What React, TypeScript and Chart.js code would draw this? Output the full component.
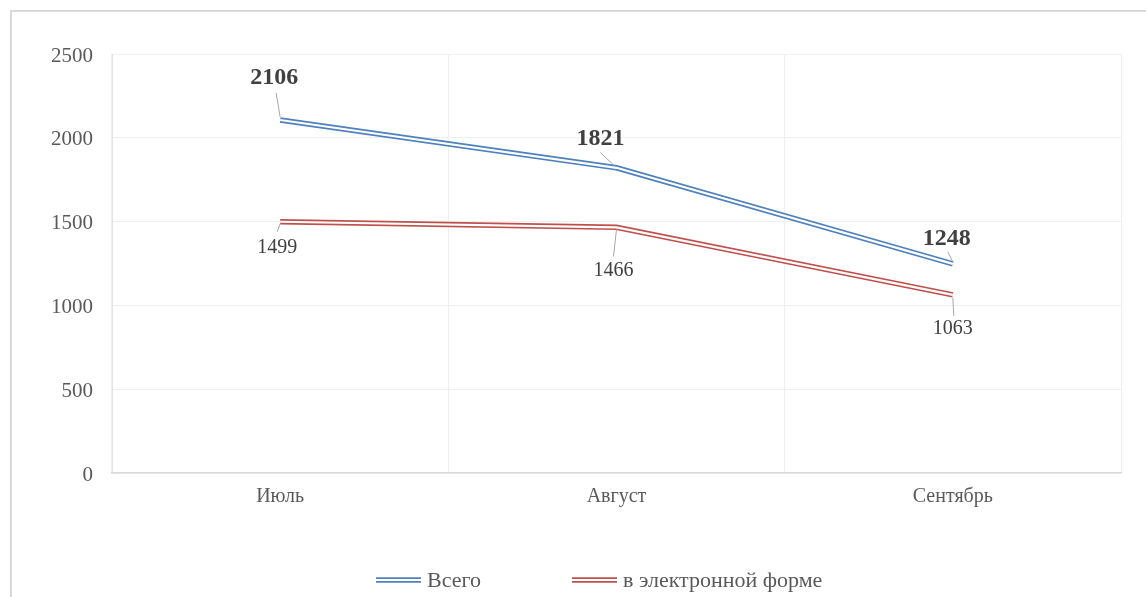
import React, { useEffect, useRef } from "react";
import { Chart, registerables } from "chart.js";

Chart.register(...registerables);

const categories = ["Июль", "Август", "Сентябрь"];
const seriesNames = ["Всего", "в электронной форме"];
const totalValues = [2106, 1821, 1248];
const electronicValues = [1499, 1466, 1063];
const yTicks = [0, 500, 1000, 1500, 2000, 2500];

const colors = ["#4F81BD", "#C0504D"];
const FONT = "'Liberation Serif', 'Times New Roman', serif";

// label placement relative to each point: [dx, dy] of text centre, leader start, leader end
const labelOffsets = [
  [[-6, -42], [-16, -29], [-6, -25]],
  [[-3, 26], [-3, 43], [0, 34]],
];
const leaderStarts = [
  [[0, -3], [-3, -3], [0, -2]],
  [[0, 2], [0, 2], [0, 3]],
];
const leaderEnds = [
  [[-4, -27], [-16, -15], [-5, -12]],
  [[-3, 10], [-3, 29], [1, 21]],
];

const labelsPlugin = {
  id: "dataLabels",
  afterDatasetsDraw(chart: any) {
    const ctx = chart.ctx;
    for (let s = 0; s < 2; s++) {
      const meta = chart.getDatasetMeta(s + 2);
      const values = chart.data.datasets[s + 2].data;
      meta.data.forEach((pt: any, i: number) => {
        const [ldx, ldy] = labelOffsets[s][i];
        const [sx, sy] = leaderStarts[s][i];
        const [ex, ey] = leaderEnds[s][i];
        ctx.save();
        ctx.strokeStyle = "#a6a6a6";
        ctx.lineWidth = 1;
        ctx.beginPath();
        ctx.moveTo(pt.x + sx, pt.y + sy);
        ctx.lineTo(pt.x + ex, pt.y + ey);
        ctx.stroke();
        ctx.fillStyle = "#404040";
        ctx.textAlign = "center";
        ctx.textBaseline = "middle";
        ctx.font = s === 0 ? `bold 24px ${FONT}` : `20px ${FONT}`;
        ctx.fillText(String(values[i]), pt.x + ldx, pt.y + ldy);
        ctx.restore();
      });
    }
  },
};

const legendPlugin = {
  id: "customLegend",
  afterDraw(chart: any) {
    const ctx = chart.ctx;
    const y = 569;
    const starts = [364, 560];
    ctx.save();
    seriesNames.forEach((name, i) => {
      const x0 = starts[i];
      ctx.strokeStyle = colors[i];
      ctx.lineWidth = 5.5;
      ctx.lineCap = "butt";
      ctx.beginPath();
      ctx.moveTo(x0, y - 1);
      ctx.lineTo(x0 + 45, y - 1);
      ctx.stroke();
      ctx.strokeStyle = "#ffffff";
      ctx.lineWidth = 2.2;
      ctx.beginPath();
      ctx.moveTo(x0, y - 1);
      ctx.lineTo(x0 + 45, y - 1);
      ctx.stroke();
      ctx.fillStyle = "#595959";
      ctx.font = `22px ${FONT}`;
      ctx.textAlign = "left";
      ctx.textBaseline = "middle";
      ctx.fillText(name, x0 + 51, y);
    });
    ctx.restore();
  },
};

export default function App() {
  const ref = useRef<HTMLCanvasElement>(null);
  useEffect(() => {
    if (!ref.current) return;
    const mk = (data: number[], color: string, width: number, order: number) => ({
      data,
      borderColor: color,
      backgroundColor: color,
      borderWidth: width,
      borderCapStyle: "butt",
      borderJoinStyle: "miter",
      pointRadius: 0,
      pointHoverRadius: 0,
      tension: 0,
      fill: false,
      order,
    });
    const chart = new Chart(ref.current, {
      type: "line",
      data: {
        labels: categories,
        datasets: [
          { label: seriesNames[0], ...mk(totalValues, colors[0], 5.5, 2) },
          { label: seriesNames[1], ...mk(electronicValues, colors[1], 5.5, 2) },
          { label: seriesNames[0] + " ", ...mk(totalValues, "#ffffff", 2.2, 1) },
          { label: seriesNames[1] + " ", ...mk(electronicValues, "#ffffff", 2.2, 1) },
        ],
      } as any,
      options: {
        responsive: false,
        animation: false,
        layout: { padding: { left: 0, top: 42, right: 25, bottom: 84 } },
        plugins: {
          legend: { display: false },
          tooltip: { enabled: false },
        },
        scales: {
          x: {
            offset: true,
            grid: { offset: true, color: "#efefef", lineWidth: 1, drawTicks: false },
            border: { color: "#d9d9d9", width: 1.5 },
            ticks: { color: "#595959", font: { family: FONT, size: 20 }, padding: 12 },
            afterFit: (s: any) => { s.height = 40; },
          },
          y: {
            min: 0,
            max: 2500,
            afterBuildTicks: (s: any) => { s.ticks = yTicks.map((v) => ({ value: v })); },
            grid: { color: "#efefef", lineWidth: 1, drawTicks: false },
            border: { color: "#e3e3e3", width: 1 },
            ticks: {
              color: "#595959",
              font: { family: FONT, size: 21 },
              padding: 19,
              labelOffset: 2,
              callback: (v: any) => String(v),
            },
            afterFit: (s: any) => { s.width = 100; },
          },
        },
      } as any,
      plugins: [labelsPlugin, legendPlugin],
    });
    return () => chart.destroy();
  }, []);
  return (
    <div
      style={{
        position: "fixed",
        left: 10,
        top: 10,
        width: 1136,
        height: 587,
        boxSizing: "border-box",
        borderTop: "2px solid #d9d9d9",
        borderLeft: "2px solid #d9d9d9",
        background: "#ffffff",
      }}
    >
      <canvas ref={ref} width={1134} height={585} style={{ display: "block" }} />
    </div>
  );
}
